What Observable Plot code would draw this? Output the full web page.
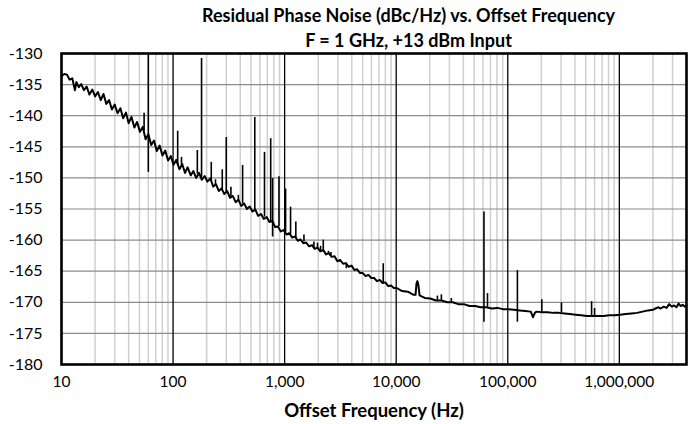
<!DOCTYPE html>
<html><head><meta charset="utf-8">
<script src="https://cdn.jsdelivr.net/npm/d3@7"></script>
<script src="https://cdn.jsdelivr.net/npm/@observablehq/plot@0.6"></script>
<style>
body{margin:0;background:#fff;font-family:Lato,"Open Sans",sans-serif;}
</style></head><body>
<div id="chart"></div>
<script>
// Measured residual phase noise trace (offset frequency in Hz, dBc/Hz)
const traceFreq = [10,10.6,11.2,11.8,12.5,13.2,13.6,14.3,15,15.9,16.8,17.8,18.9,20,21.2,22.5,23.8,25.2,26.7,28.3,30,31.8,33.7,35.7,37.8,40,42.4,45,47.6,50.5,53.5,56.7,60.1,63.7,67.5,71.5,75.8,80.3,85.1,90.2,95.6,101,107,114,121,128,135,144,152,161,171,181,192,203,216,229,242,257,272,288,305,324,343,364,385,408,433,459,486,515,546,579,614,651,690,731,775,822,871,923,979,1040,1100,1170,1240,1310,1390,1470,1560,1660,1760,1860,1970,2090,2220,2350,2490,2640,2800,2970,3150,3340,3540,3750,3980,4220,4470,4740,5020,5320,5640,5980,6340,6720,7120,7550,8000,8480,8990,9530,10100,11300,12700,14300,14900,15200,15500,15800,16200,18000,20200,22700,25500,28600,32100,36000,40400,45300,50900,57100,64100,71900,80700,90600,101600,114000,128000,143600,161000,168000,175000,181000,203000,228000,256000,287000,322000,361000,405000,455000,510000,573000,643000,721000,809000,908000,1019000,1143000,1283000,1440000,1615000,1812000,2000000,2100000,2250000,2350000,2500000,2650000,2800000,2950000,3100000,3250000,3400000,3550000,3700000,3850000,4000000];
const traceDb = [-133.6,-133.3,-133.4,-134.2,-134.0,-135.9,-134.6,-135.4,-134.9,-135.9,-135.3,-136.6,-135.8,-136.9,-136.2,-137.5,-136.5,-138.1,-137.5,-139.0,-138.2,-139.6,-138.8,-140.4,-139.5,-141.2,-140.2,-141.9,-141.0,-142.6,-141.8,-143.8,-143.0,-144.7,-144.0,-145.7,-144.8,-146.4,-145.6,-147.2,-146.5,-147.9,-147.1,-148.6,-147.8,-149.2,-148.3,-149.6,-148.9,-150.0,-149.2,-150.3,-149.7,-150.6,-150.1,-151.4,-151.0,-152.1,-151.7,-152.6,-152.1,-153.2,-152.9,-153.9,-153.5,-154.5,-154.1,-155.0,-154.6,-155.4,-155.1,-156.1,-155.8,-156.6,-156.3,-157.1,-156.9,-157.9,-157.8,-158.6,-158.4,-159.1,-158.9,-159.6,-159.4,-160.1,-159.9,-160.5,-160.4,-161.0,-160.8,-161.4,-161.2,-161.8,-161.6,-162.3,-162.1,-162.7,-162.6,-163.4,-163.2,-163.8,-163.7,-164.3,-164.1,-164.8,-164.7,-165.3,-165.3,-165.8,-165.6,-166.1,-166.1,-166.6,-166.4,-166.9,-166.8,-167.4,-167.3,-167.7,-167.7,-168.2,-168.3,-168.8,-168.8,-167.0,-166.6,-167.2,-168.9,-169.3,-169.4,-169.7,-169.7,-170.0,-170.0,-170.3,-170.3,-170.6,-170.6,-170.8,-170.8,-171.0,-170.9,-171.1,-171.1,-171.2,-171.3,-171.4,-171.5,-172.4,-171.7,-171.5,-171.6,-171.6,-171.7,-171.7,-171.8,-171.9,-172.0,-172.1,-172.2,-172.2,-172.2,-172.2,-172.1,-172.1,-172.0,-171.9,-171.8,-171.7,-171.5,-171.3,-171.2,-171.0,-170.8,-171.0,-170.7,-170.9,-170.3,-170.7,-170.5,-170.8,-170.2,-170.6,-170.4,-170.7,-170.5];

// Discrete spurs: frequency, peak level, lower end of the spike
const spurFreq   = [55,60,110,119,165,180,220,240,276,300,330,385,420,540,660,750,780,890,1020,1130,1260,1490,1830,1970,2100,2220,2470,2600,3570,7650,23400,25400,31200,61200,65800,122000,202000,303000,564000,600000];
const spurTop    = [-139.6,-130,-142.5,-146.7,-145.6,-130.8,-147.5,-150.3,-148.7,-143.5,-151.5,-152.8,-148,-140.3,-145.9,-143.7,-150.1,-149.8,-151.8,-154.7,-157.1,-159.2,-160.3,-160.5,-161,-160,-161.8,-162,-163.9,-163.8,-169.0,-168.8,-169.4,-155.5,-168.6,-164.9,-169.6,-170.1,-169.9,-171.0];
const spurBottom = [-142.5,-149.1,-148,-148.2,-149.4,-150,-150.6,-151.2,-151.9,-152.4,-153,-153.8,-154.2,-155.2,-156.3,-157,-159.5,-157.8,-158.8,-159.2,-159.6,-160.3,-161.2,-161.4,-161.7,-161.8,-162.3,-162.5,-164.6,-167.0,-169.7,-169.7,-170.1,-173.2,-170.8,-173.2,-171.6,-171.7,-172.2,-172.2];

const yTicks = [-180,-175,-170,-165,-160,-155,-150,-145,-140,-135,-130];
const xTicks = [10,100,1000,10000,100000,1000000];
const titleLines = ["Residual Phase Noise (dBc/Hz) vs. Offset Frequency", "F = 1 GHz, +13 dBm Input"];
const xLabel = "Offset Frequency (Hz)";

const trace = traceFreq.map((f,i)=>({f, v: traceDb[i]}));
const spurs = spurFreq.map((f,i)=>({f, top: spurTop[i], bottom: spurBottom[i]}));
const minor = [];
for (const d of xTicks) for (let k=2;k<=9;k++) if (d*k<=4e6) minor.push(d*k);

const chart = Plot.plot({
  width:697, height:424,
  marginTop:53, marginBottom:60, marginLeft:61, marginRight:11,
  style:{fontFamily:"Lato, sans-serif", fontSize:"15px", color:"#000", background:"#fff"},
  x:{type:"log", domain:[10,4e6]},
  y:{domain:[-180,-130]},
  marks:[
    Plot.gridX(minor, {stroke:"#d0d0d0", strokeOpacity:1, strokeWidth:1.5}),
    Plot.gridY(yTicks, {stroke:"#8c8c8c", strokeOpacity:1, strokeWidth:1.2}),
    Plot.gridX(xTicks, {stroke:"#000", strokeOpacity:1, strokeWidth:1.3}),
    Plot.ruleX(spurs, {x:"f", y1:"bottom", y2:"top", stroke:"#000", strokeWidth:1.6}),
    Plot.line(trace, {x:"f", y:"v", stroke:"#000", strokeWidth:2}),
    Plot.frame({stroke:"#000", strokeWidth:2.6}),
    Plot.axisY(yTicks, {tickSize:0, tickPadding:19, fontSize:16, tickFormat:d=>String(d), label:null}),
    Plot.axisX(xTicks, {tickSize:0, tickPadding:11, fontSize:15.5, tickFormat:d3.format(","), label:null}),
    Plot.text([titleLines[0]], {frameAnchor:"top", lineAnchor:"middle", dx:34.5, dy:-37, fontWeight:"bold", fontSize:18}),
    Plot.text([titleLines[1]], {frameAnchor:"top", lineAnchor:"middle", dx:34.5, dy:-12, fontWeight:"bold", fontSize:18}),
    Plot.text([xLabel], {frameAnchor:"bottom", lineAnchor:"middle", dy:47, fontWeight:"bold", fontSize:18.5})
  ]
});
document.getElementById("chart").appendChild(chart);
</script>
</body></html>
